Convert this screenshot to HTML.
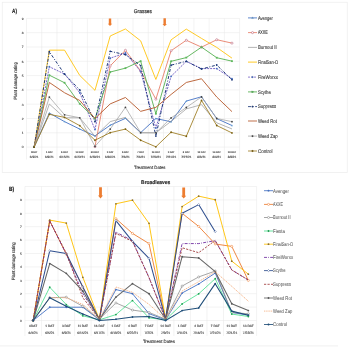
<!DOCTYPE html>
<html><head><meta charset="utf-8"><style>
html,body{margin:0;padding:0;background:#fff;width:350px;height:348px;overflow:hidden}
svg{display:block;will-change:transform}
text{font-family:"Liberation Sans", sans-serif;text-rendering:geometricPrecision}
</style></head><body>
<svg width="350" height="348" viewBox="0 0 350 348">
<rect x="0" y="0" width="350" height="348" fill="#fff"/>
<rect x="2.25" y="2.25" width="345" height="170.2" fill="none" stroke="#eeeeee" stroke-width="0.8"/>
<line x1="0" y1="345.8" x2="338" y2="345.8" stroke="#f3f3f3" stroke-width="1.2"/>
<g stroke="#e6e6e6" stroke-width="0.5">
<line x1="26.5" y1="147.1" x2="239.58" y2="147.1"/>
<line x1="26.5" y1="132.8" x2="239.58" y2="132.8"/>
<line x1="26.5" y1="118.5" x2="239.58" y2="118.5"/>
<line x1="26.5" y1="104.2" x2="239.58" y2="104.2"/>
<line x1="26.5" y1="89.9" x2="239.58" y2="89.9"/>
<line x1="26.5" y1="75.6" x2="239.58" y2="75.6"/>
<line x1="26.5" y1="61.3" x2="239.58" y2="61.3"/>
<line x1="26.5" y1="47" x2="239.58" y2="47"/>
<line x1="26.5" y1="32.7" x2="239.58" y2="32.7"/>
<line x1="26.5" y1="18.4" x2="239.58" y2="18.4"/>
<line x1="26.5" y1="18.4" x2="26.5" y2="159.5"/>
<line x1="41.72" y1="18.4" x2="41.72" y2="159.5"/>
<line x1="56.94" y1="18.4" x2="56.94" y2="159.5"/>
<line x1="72.16" y1="18.4" x2="72.16" y2="159.5"/>
<line x1="87.38" y1="18.4" x2="87.38" y2="159.5"/>
<line x1="102.6" y1="18.4" x2="102.6" y2="159.5"/>
<line x1="117.82" y1="18.4" x2="117.82" y2="159.5"/>
<line x1="133.04" y1="18.4" x2="133.04" y2="159.5"/>
<line x1="148.26" y1="18.4" x2="148.26" y2="159.5"/>
<line x1="163.48" y1="18.4" x2="163.48" y2="159.5"/>
<line x1="178.7" y1="18.4" x2="178.7" y2="159.5"/>
<line x1="193.92" y1="18.4" x2="193.92" y2="159.5"/>
<line x1="209.14" y1="18.4" x2="209.14" y2="159.5"/>
<line x1="224.36" y1="18.4" x2="224.36" y2="159.5"/>
<line x1="239.58" y1="18.4" x2="239.58" y2="159.5"/>
<line x1="24.9" y1="320.5" x2="256.6" y2="320.5"/>
<line x1="24.9" y1="307.1" x2="256.6" y2="307.1"/>
<line x1="24.9" y1="293.7" x2="256.6" y2="293.7"/>
<line x1="24.9" y1="280.3" x2="256.6" y2="280.3"/>
<line x1="24.9" y1="266.9" x2="256.6" y2="266.9"/>
<line x1="24.9" y1="253.5" x2="256.6" y2="253.5"/>
<line x1="24.9" y1="240.1" x2="256.6" y2="240.1"/>
<line x1="24.9" y1="226.7" x2="256.6" y2="226.7"/>
<line x1="24.9" y1="213.3" x2="256.6" y2="213.3"/>
<line x1="24.9" y1="199.9" x2="256.6" y2="199.9"/>
<line x1="24.9" y1="186.5" x2="256.6" y2="186.5"/>
<line x1="24.9" y1="186.5" x2="24.9" y2="336"/>
<line x1="41.45" y1="186.5" x2="41.45" y2="336"/>
<line x1="58" y1="186.5" x2="58" y2="336"/>
<line x1="74.55" y1="186.5" x2="74.55" y2="336"/>
<line x1="91.1" y1="186.5" x2="91.1" y2="336"/>
<line x1="107.65" y1="186.5" x2="107.65" y2="336"/>
<line x1="124.2" y1="186.5" x2="124.2" y2="336"/>
<line x1="140.75" y1="186.5" x2="140.75" y2="336"/>
<line x1="157.3" y1="186.5" x2="157.3" y2="336"/>
<line x1="173.85" y1="186.5" x2="173.85" y2="336"/>
<line x1="190.4" y1="186.5" x2="190.4" y2="336"/>
<line x1="206.95" y1="186.5" x2="206.95" y2="336"/>
<line x1="223.5" y1="186.5" x2="223.5" y2="336"/>
<line x1="240.05" y1="186.5" x2="240.05" y2="336"/>
<line x1="256.6" y1="186.5" x2="256.6" y2="336"/>
</g>
<g font-size="3.2" fill="#595959" stroke="#595959" stroke-width="0.15" text-anchor="middle">
<text x="22.7" y="148.4">0</text>
<text x="22.7" y="134.1">1</text>
<text x="22.7" y="119.8">2</text>
<text x="22.7" y="105.5">3</text>
<text x="22.7" y="91.2">4</text>
<text x="22.7" y="76.9">5</text>
<text x="22.7" y="62.6">6</text>
<text x="22.7" y="48.3">7</text>
<text x="22.7" y="34">8</text>
<text x="22.7" y="19.7">9</text>
<text x="21" y="321.7">0</text>
<text x="21" y="308.3">1</text>
<text x="21" y="294.9">2</text>
<text x="21" y="281.5">3</text>
<text x="21" y="268.1">4</text>
<text x="21" y="254.7">5</text>
<text x="21" y="241.3">6</text>
<text x="21" y="227.9">7</text>
<text x="21" y="214.5">8</text>
<text x="21" y="201.1">9</text>
</g>
<g fill="#595959" stroke="#595959" stroke-width="0.16" text-anchor="middle">
<g font-size="2.5"><text x="34.11" y="152.6">0DAT</text>
<text x="49.33" y="152.6">1 DAT</text>
<text x="64.55" y="152.6">6 DAT</text>
<text x="79.77" y="152.6">13 DAT</text>
<text x="94.99" y="152.6">20 DAT</text>
<text x="110.21" y="152.6">1 DAT</text>
<text x="125.43" y="152.6">6 DAT</text>
<text x="140.65" y="152.6">7 DAT</text>
<text x="155.87" y="152.6">14 DAT</text>
<text x="171.09" y="152.6">1 DAT</text>
<text x="186.31" y="152.6">6 DAT</text>
<text x="201.53" y="152.6">13 DAT</text>
<text x="216.75" y="152.6">14 DAT</text>
<text x="231.97" y="152.6">18 DAT</text></g>
<g font-size="3.1"><text x="34.11" y="157.5">6/9/21</text>
<text x="49.33" y="157.5">6/9/21</text>
<text x="64.55" y="157.5">6/15/21</text>
<text x="79.77" y="157.5">6/22/21</text>
<text x="94.99" y="157.5">6/29/21</text>
<text x="110.21" y="157.5">6/30/21</text>
<text x="125.43" y="157.5">7/6/21</text>
<text x="140.65" y="157.5">7/6/21</text>
<text x="155.87" y="157.5">7/20/21</text>
<text x="171.09" y="157.5">7/21/21</text>
<text x="186.31" y="157.5">7/27/21</text>
<text x="201.53" y="157.5">8/3/21</text>
<text x="216.75" y="157.5">8/4/21</text>
<text x="231.97" y="157.5">8/9/21</text></g>
<g font-size="3.2"><text x="33.17" y="326.5">0DAT</text>
<text x="49.73" y="326.5">1 DAT</text>
<text x="66.28" y="326.5">3 DAT</text>
<text x="82.83" y="326.5">11 DAT</text>
<text x="99.38" y="326.5">16 DAT</text>
<text x="115.93" y="326.5">1 DAT</text>
<text x="132.47" y="326.5">4 DAT</text>
<text x="149.03" y="326.5">7 DAT</text>
<text x="165.58" y="326.5">14 DAT</text>
<text x="182.12" y="326.5">1 DAT</text>
<text x="198.68" y="326.5">4 DAT</text>
<text x="215.23" y="326.5">7 DAT</text>
<text x="231.78" y="326.5">11 DAT</text>
<text x="248.33" y="326.5">13 DAT</text></g>
<g font-size="3.3"><text x="33.17" y="333.8">6/4/21</text>
<text x="49.73" y="333.8">6/5/21</text>
<text x="66.28" y="333.8">6/9/21</text>
<text x="82.83" y="333.8">6/15/21</text>
<text x="99.38" y="333.8">6/17/21</text>
<text x="115.93" y="333.8">6/19/21</text>
<text x="132.47" y="333.8">6/22/21</text>
<text x="149.03" y="333.8">7/2/21</text>
<text x="165.58" y="333.8">7/9/21</text>
<text x="182.12" y="333.8">7/11/21</text>
<text x="198.68" y="333.8">7/16/21</text>
<text x="215.23" y="333.8">7/21/21</text>
<text x="231.78" y="333.8">7/21/21</text>
<text x="248.33" y="333.8">7/23/21</text></g>
</g>
<g font-size="4.6" fill="#404040" stroke="#404040" stroke-width="0.15" text-anchor="middle">
<g transform="translate(15.8 80.9) rotate(-90)"><text x="0" y="1.6" textLength="37.3" lengthAdjust="spacingAndGlyphs">Plant damage rating</text></g>
<g transform="translate(13.5 261.3) rotate(-90)"><text x="0" y="1.6" textLength="38" lengthAdjust="spacingAndGlyphs">Plant damage rating</text></g>
<text x="149.7" y="169.1" textLength="31.5" lengthAdjust="spacingAndGlyphs">Treatment Dates</text>
<text x="158.9" y="342.9" textLength="32" lengthAdjust="spacingAndGlyphs">Treatment Dates</text>
</g>
<g font-size="5.4" fill="#333" stroke="#333" stroke-width="0.2" text-anchor="middle">
<text x="142.9" y="12.9" textLength="18.2" lengthAdjust="spacingAndGlyphs">Grasses</text>
<text x="155.7" y="184" textLength="29.2" lengthAdjust="spacingAndGlyphs" font-weight="bold">Broadleaves</text>
</g>
<g font-size="6" font-weight="bold" fill="#222" stroke="#222" stroke-width="0.2">
<text x="12.1" y="13.4" textLength="4.9" lengthAdjust="spacingAndGlyphs">A)</text>
<text x="9" y="191" textLength="5.2" lengthAdjust="spacingAndGlyphs">B)</text>
</g>
<path d="M108.8 18.4H111.2V23.8H112.2L110 26L107.8 23.8H108.8Z" fill="#ed7d31"/>
<path d="M163.5 18.2H165.9V24H166.9L164.7 26.2L162.5 24H163.5Z" fill="#ed7d31"/>
<path d="M99.1 187.3H101.9V195.6H103L100.5 198.4L98 195.6H99.1Z" fill="#ed7d31"/>
<path d="M182.3 187.6H185.1V195.8H186.2L183.7 198.6L181.2 195.8H182.3Z" fill="#ed7d31"/>
<g>
<polyline points="34.11,147.1 49.33,113.07 64.55,121.65 79.77,129.08 94.99,135.95 110.21,125.22 125.43,118.36 140.65,132.66 155.87,118.5 171.09,121.79 186.31,101.05 201.53,96.76 216.75,118.64 231.97,125.51" fill="none" stroke="#4472c4" stroke-width="0.9" stroke-linejoin="round"/>
<path d="M34.11 146L35.11 147.8L33.11 147.8Z" fill="#5b9bd5"/>
<path d="M49.33 111.97L50.33 113.77L48.33 113.77Z" fill="#5b9bd5"/>
<path d="M64.55 120.55L65.55 122.35L63.55 122.35Z" fill="#5b9bd5"/>
<path d="M79.77 127.98L80.77 129.78L78.77 129.78Z" fill="#5b9bd5"/>
<path d="M94.99 134.85L95.99 136.65L93.99 136.65Z" fill="#5b9bd5"/>
<path d="M110.21 124.12L111.21 125.92L109.21 125.92Z" fill="#5b9bd5"/>
<path d="M125.43 117.26L126.43 119.06L124.43 119.06Z" fill="#5b9bd5"/>
<path d="M140.65 131.56L141.65 133.36L139.65 133.36Z" fill="#5b9bd5"/>
<path d="M155.87 117.4L156.87 119.2L154.87 119.2Z" fill="#5b9bd5"/>
<path d="M171.09 120.69L172.09 122.49L170.09 122.49Z" fill="#5b9bd5"/>
<path d="M186.31 99.95L187.31 101.75L185.31 101.75Z" fill="#5b9bd5"/>
<path d="M201.53 95.66L202.53 97.46L200.53 97.46Z" fill="#5b9bd5"/>
<path d="M216.75 117.54L217.75 119.34L215.75 119.34Z" fill="#5b9bd5"/>
<path d="M231.97 124.41L232.97 126.21L230.97 126.21Z" fill="#5b9bd5"/>
<polyline points="94.99,146.67 110.21,65.88 125.43,50.29 140.65,71.02 155.87,99.19 171.09,50.72 186.31,40.28 201.53,47.14 216.75,39.71 231.97,43.14" fill="none" stroke="#e8806a" stroke-width="0.9" stroke-linejoin="round"/>
<circle cx="94.99" cy="146.67" r="1.05" fill="#fff" stroke="#b0506a" stroke-width="0.5"/>
<circle cx="110.21" cy="65.88" r="1.05" fill="#fff" stroke="#b0506a" stroke-width="0.5"/>
<circle cx="125.43" cy="50.29" r="1.05" fill="#fff" stroke="#b0506a" stroke-width="0.5"/>
<circle cx="140.65" cy="71.02" r="1.05" fill="#fff" stroke="#b0506a" stroke-width="0.5"/>
<circle cx="155.87" cy="99.19" r="1.05" fill="#fff" stroke="#b0506a" stroke-width="0.5"/>
<circle cx="171.09" cy="50.72" r="1.05" fill="#fff" stroke="#b0506a" stroke-width="0.5"/>
<circle cx="186.31" cy="40.28" r="1.05" fill="#fff" stroke="#b0506a" stroke-width="0.5"/>
<circle cx="201.53" cy="47.14" r="1.05" fill="#fff" stroke="#b0506a" stroke-width="0.5"/>
<circle cx="216.75" cy="39.71" r="1.05" fill="#fff" stroke="#b0506a" stroke-width="0.5"/>
<circle cx="231.97" cy="43.14" r="1.05" fill="#fff" stroke="#b0506a" stroke-width="0.5"/>
<polyline points="34.11,147.1 49.33,104.06 64.55,117.78 79.77,117.78 94.99,136.38 110.21,121.65 125.43,117.36 140.65,132.8 155.87,132.8 171.09,121.36 186.31,108.92 201.53,104.63 216.75,122.79 231.97,128.94" fill="none" stroke="#8c8c8c" stroke-width="0.65" stroke-linejoin="round"/>














<polyline points="34.11,147.1 49.33,50.15 64.55,50.15 79.77,75.46 94.99,90.33 110.21,35.99 125.43,28.98 140.65,40.85 155.87,79.46 171.09,39.85 186.31,29.12 201.53,38.42 216.75,47.43 231.97,58.15" fill="none" stroke="#ffc000" stroke-width="0.85" stroke-linejoin="round"/>














<polyline points="34.11,147.1 49.33,66.73 64.55,74.03 79.77,92.76 94.99,129.51 110.21,58.15 125.43,53.01 140.65,71.45 155.87,128.08 171.09,76.31 186.31,61.3 201.53,68.59 216.75,68.59 231.97,78.75" fill="none" stroke="#7b68c8" stroke-width="1.0" stroke-linejoin="round" stroke-dasharray="2,1"/>
<circle cx="34.11" cy="147.1" r="0.9" fill="#4472c4"/>
<circle cx="49.33" cy="66.73" r="0.9" fill="#4472c4"/>
<circle cx="64.55" cy="74.03" r="0.9" fill="#4472c4"/>
<circle cx="79.77" cy="92.76" r="0.9" fill="#4472c4"/>
<circle cx="94.99" cy="129.51" r="0.9" fill="#4472c4"/>
<circle cx="110.21" cy="58.15" r="0.9" fill="#4472c4"/>
<circle cx="125.43" cy="53.01" r="0.9" fill="#4472c4"/>
<circle cx="140.65" cy="71.45" r="0.9" fill="#4472c4"/>
<circle cx="155.87" cy="128.08" r="0.9" fill="#4472c4"/>
<circle cx="171.09" cy="76.31" r="0.9" fill="#4472c4"/>
<circle cx="186.31" cy="61.3" r="0.9" fill="#4472c4"/>
<circle cx="201.53" cy="68.59" r="0.9" fill="#4472c4"/>
<circle cx="216.75" cy="68.59" r="0.9" fill="#4472c4"/>
<circle cx="231.97" cy="78.75" r="0.9" fill="#4472c4"/>
<polyline points="34.11,147.1 49.33,75.17 64.55,82.75 79.77,103.77 94.99,118.64 110.21,72.02 125.43,68.16 140.65,61.16 155.87,113.78 171.09,61.3 186.31,57.58 201.53,47.14 216.75,57.72 231.97,61.16" fill="none" stroke="#55b050" stroke-width="0.9" stroke-linejoin="round"/>
<rect x="33.21" y="146.2" width="1.8" height="1.8" fill="#5cb85c"/>
<rect x="48.43" y="74.27" width="1.8" height="1.8" fill="#5cb85c"/>
<rect x="63.65" y="81.85" width="1.8" height="1.8" fill="#5cb85c"/>
<rect x="78.87" y="102.87" width="1.8" height="1.8" fill="#5cb85c"/>
<rect x="94.09" y="117.74" width="1.8" height="1.8" fill="#5cb85c"/>
<rect x="109.31" y="71.12" width="1.8" height="1.8" fill="#5cb85c"/>
<rect x="124.53" y="67.26" width="1.8" height="1.8" fill="#5cb85c"/>
<rect x="139.75" y="60.26" width="1.8" height="1.8" fill="#5cb85c"/>
<rect x="154.97" y="112.88" width="1.8" height="1.8" fill="#5cb85c"/>
<rect x="170.19" y="60.4" width="1.8" height="1.8" fill="#5cb85c"/>
<rect x="185.41" y="56.68" width="1.8" height="1.8" fill="#5cb85c"/>
<rect x="200.63" y="46.24" width="1.8" height="1.8" fill="#5cb85c"/>
<rect x="215.85" y="56.82" width="1.8" height="1.8" fill="#5cb85c"/>
<rect x="231.07" y="60.26" width="1.8" height="1.8" fill="#5cb85c"/>
<polyline points="34.11,147.1 49.33,51.72 64.55,74.17 79.77,89.9 94.99,121.65 110.21,51.29 125.43,54.72 140.65,65.59 155.87,136.09 171.09,65.16 186.31,61.3 201.53,69.02 216.75,65.02 231.97,79.75" fill="none" stroke="#1f3a7a" stroke-width="1.0" stroke-linejoin="round" stroke-dasharray="3,1.6,1,1.6"/>
<circle cx="34.11" cy="147.1" r="0.9" fill="#1f3a7a"/>
<circle cx="49.33" cy="51.72" r="0.9" fill="#1f3a7a"/>
<circle cx="64.55" cy="74.17" r="0.9" fill="#1f3a7a"/>
<circle cx="79.77" cy="89.9" r="0.9" fill="#1f3a7a"/>
<circle cx="94.99" cy="121.65" r="0.9" fill="#1f3a7a"/>
<circle cx="110.21" cy="51.29" r="0.9" fill="#1f3a7a"/>
<circle cx="125.43" cy="54.72" r="0.9" fill="#1f3a7a"/>
<circle cx="140.65" cy="65.59" r="0.9" fill="#1f3a7a"/>
<circle cx="155.87" cy="136.09" r="0.9" fill="#1f3a7a"/>
<circle cx="171.09" cy="65.16" r="0.9" fill="#1f3a7a"/>
<circle cx="186.31" cy="61.3" r="0.9" fill="#1f3a7a"/>
<circle cx="201.53" cy="69.02" r="0.9" fill="#1f3a7a"/>
<circle cx="216.75" cy="65.02" r="0.9" fill="#1f3a7a"/>
<circle cx="231.97" cy="79.75" r="0.9" fill="#1f3a7a"/>
<polyline points="34.11,147.1 49.33,82.46 64.55,92.76 79.77,100.48 94.99,118.5 110.21,103.91 125.43,97.48 140.65,111.35 155.87,107.35 171.09,94.48 186.31,82.46 201.53,78.75 216.75,97.05 231.97,111.64" fill="none" stroke="#b5582a" stroke-width="0.9" stroke-linejoin="round"/>














<polyline points="34.11,147.1 49.33,97.05 64.55,114.78 79.77,117.78 94.99,146.38 110.21,129.08 125.43,107.35 140.65,132.66 155.87,132.8 171.09,117.93 186.31,107.49 201.53,96.91 216.75,118.5 231.97,121.65" fill="none" stroke="#a6a6a6" stroke-width="0.78" stroke-linejoin="round"/>
<circle cx="34.11" cy="147.1" r="0.9" fill="#404040"/>
<circle cx="49.33" cy="97.05" r="0.9" fill="#404040"/>
<circle cx="64.55" cy="114.78" r="0.9" fill="#404040"/>
<circle cx="79.77" cy="117.78" r="0.9" fill="#404040"/>
<circle cx="94.99" cy="146.38" r="0.9" fill="#404040"/>
<circle cx="110.21" cy="129.08" r="0.9" fill="#404040"/>
<circle cx="125.43" cy="107.35" r="0.9" fill="#404040"/>
<circle cx="140.65" cy="132.66" r="0.9" fill="#404040"/>
<circle cx="155.87" cy="132.8" r="0.9" fill="#404040"/>
<circle cx="171.09" cy="117.93" r="0.9" fill="#404040"/>
<circle cx="186.31" cy="107.49" r="0.9" fill="#404040"/>
<circle cx="201.53" cy="96.91" r="0.9" fill="#404040"/>
<circle cx="216.75" cy="118.5" r="0.9" fill="#404040"/>
<circle cx="231.97" cy="121.65" r="0.9" fill="#404040"/>
<polyline points="34.11,147.1 49.33,114.35 64.55,117.36 79.77,125.65 94.99,140.24 110.21,132.66 125.43,129.08 140.65,140.24 155.87,146.81 171.09,132.23 186.31,136.23 201.53,100.48 216.75,125.51 231.97,132.94" fill="none" stroke="#a08028" stroke-width="0.9" stroke-linejoin="round"/>
<circle cx="34.11" cy="147.1" r="0.9" fill="#7a6010"/>
<circle cx="49.33" cy="114.35" r="0.9" fill="#7a6010"/>
<circle cx="64.55" cy="117.36" r="0.9" fill="#7a6010"/>
<circle cx="79.77" cy="125.65" r="0.9" fill="#7a6010"/>
<circle cx="94.99" cy="140.24" r="0.9" fill="#7a6010"/>
<circle cx="110.21" cy="132.66" r="0.9" fill="#7a6010"/>
<circle cx="125.43" cy="129.08" r="0.9" fill="#7a6010"/>
<circle cx="140.65" cy="140.24" r="0.9" fill="#7a6010"/>
<circle cx="155.87" cy="146.81" r="0.9" fill="#7a6010"/>
<circle cx="171.09" cy="132.23" r="0.9" fill="#7a6010"/>
<circle cx="186.31" cy="136.23" r="0.9" fill="#7a6010"/>
<circle cx="201.53" cy="100.48" r="0.9" fill="#7a6010"/>
<circle cx="216.75" cy="125.51" r="0.9" fill="#7a6010"/>
<circle cx="231.97" cy="132.94" r="0.9" fill="#7a6010"/>
</g>
<g>
<polyline points="33.17,320.5 49.73,307.23 66.28,307.23 82.83,307.23 99.38,319.83 115.93,289.55 132.47,293.7 149.03,313.67 165.58,319.83 182.12,293.03 198.68,284.05 215.23,273.06 231.78,312.46 248.33,315.14" fill="none" stroke="#4472c4" stroke-width="0.91" stroke-linejoin="round"/>
<circle cx="33.17" cy="320.5" r="0.9" fill="#4472c4"/>
<circle cx="49.73" cy="307.23" r="0.9" fill="#4472c4"/>
<circle cx="66.28" cy="307.23" r="0.9" fill="#4472c4"/>
<circle cx="82.83" cy="307.23" r="0.9" fill="#4472c4"/>
<circle cx="99.38" cy="319.83" r="0.9" fill="#4472c4"/>
<circle cx="115.93" cy="289.55" r="0.9" fill="#4472c4"/>
<circle cx="132.47" cy="293.7" r="0.9" fill="#4472c4"/>
<circle cx="149.03" cy="313.67" r="0.9" fill="#4472c4"/>
<circle cx="165.58" cy="319.83" r="0.9" fill="#4472c4"/>
<circle cx="182.12" cy="293.03" r="0.9" fill="#4472c4"/>
<circle cx="198.68" cy="284.05" r="0.9" fill="#4472c4"/>
<circle cx="215.23" cy="273.06" r="0.9" fill="#4472c4"/>
<circle cx="231.78" cy="312.46" r="0.9" fill="#4472c4"/>
<circle cx="248.33" cy="315.14" r="0.9" fill="#4472c4"/>
<polyline points="33.17,320.5 49.73,220.94 66.28,254.17 82.83,287 99.38,319.16 115.93,218.66 132.47,233.4 149.03,243.58 165.58,319.16 182.12,213.3 198.68,226.43 215.23,243.99 231.78,246.4 248.33,280.43" fill="none" stroke="#ed7d31" stroke-width="0.91" stroke-linejoin="round"/>
<circle cx="33.17" cy="320.5" r="1.05" fill="#fff" stroke="#ed7d31" stroke-width="0.5"/>
<circle cx="49.73" cy="220.94" r="1.05" fill="#fff" stroke="#ed7d31" stroke-width="0.5"/>
<circle cx="66.28" cy="254.17" r="1.05" fill="#fff" stroke="#ed7d31" stroke-width="0.5"/>
<circle cx="82.83" cy="287" r="1.05" fill="#fff" stroke="#ed7d31" stroke-width="0.5"/>
<circle cx="99.38" cy="319.16" r="1.05" fill="#fff" stroke="#ed7d31" stroke-width="0.5"/>
<circle cx="115.93" cy="218.66" r="1.05" fill="#fff" stroke="#ed7d31" stroke-width="0.5"/>
<circle cx="132.47" cy="233.4" r="1.05" fill="#fff" stroke="#ed7d31" stroke-width="0.5"/>
<circle cx="149.03" cy="243.58" r="1.05" fill="#fff" stroke="#ed7d31" stroke-width="0.5"/>
<circle cx="165.58" cy="319.16" r="1.05" fill="#fff" stroke="#ed7d31" stroke-width="0.5"/>
<circle cx="182.12" cy="213.3" r="1.05" fill="#fff" stroke="#ed7d31" stroke-width="0.5"/>
<circle cx="198.68" cy="226.43" r="1.05" fill="#fff" stroke="#ed7d31" stroke-width="0.5"/>
<circle cx="215.23" cy="243.99" r="1.05" fill="#fff" stroke="#ed7d31" stroke-width="0.5"/>
<circle cx="231.78" cy="246.4" r="1.05" fill="#fff" stroke="#ed7d31" stroke-width="0.5"/>
<circle cx="248.33" cy="280.43" r="1.05" fill="#fff" stroke="#ed7d31" stroke-width="0.5"/>
<polyline points="33.17,320.5 49.73,297.72 66.28,297.18 82.83,306.3 99.38,319.16 115.93,302.95 132.47,310.05 149.03,312.46 165.58,319.16 182.12,286.06 198.68,276.95 215.23,271.05 231.78,312.46 248.33,313.8" fill="none" stroke="#8c8c8c" stroke-width="0.78" stroke-linejoin="round"/>
<circle cx="33.17" cy="320.5" r="1.05" fill="#fff" stroke="#7f7f7f" stroke-width="0.5"/>
<circle cx="49.73" cy="297.72" r="1.05" fill="#fff" stroke="#7f7f7f" stroke-width="0.5"/>
<circle cx="66.28" cy="297.18" r="1.05" fill="#fff" stroke="#7f7f7f" stroke-width="0.5"/>
<circle cx="82.83" cy="306.3" r="1.05" fill="#fff" stroke="#7f7f7f" stroke-width="0.5"/>
<circle cx="99.38" cy="319.16" r="1.05" fill="#fff" stroke="#7f7f7f" stroke-width="0.5"/>
<circle cx="115.93" cy="302.95" r="1.05" fill="#fff" stroke="#7f7f7f" stroke-width="0.5"/>
<circle cx="132.47" cy="310.05" r="1.05" fill="#fff" stroke="#7f7f7f" stroke-width="0.5"/>
<circle cx="149.03" cy="312.46" r="1.05" fill="#fff" stroke="#7f7f7f" stroke-width="0.5"/>
<circle cx="165.58" cy="319.16" r="1.05" fill="#fff" stroke="#7f7f7f" stroke-width="0.5"/>
<circle cx="182.12" cy="286.06" r="1.05" fill="#fff" stroke="#7f7f7f" stroke-width="0.5"/>
<circle cx="198.68" cy="276.95" r="1.05" fill="#fff" stroke="#7f7f7f" stroke-width="0.5"/>
<circle cx="215.23" cy="271.05" r="1.05" fill="#fff" stroke="#7f7f7f" stroke-width="0.5"/>
<circle cx="231.78" cy="312.46" r="1.05" fill="#fff" stroke="#7f7f7f" stroke-width="0.5"/>
<circle cx="248.33" cy="313.8" r="1.05" fill="#fff" stroke="#7f7f7f" stroke-width="0.5"/>
<polyline points="33.17,320.5 49.73,287.27 66.28,304.55 82.83,315.81 99.38,319.83 115.93,314.6 132.47,300.53 149.03,317.82 165.58,319.83 182.12,303.88 198.68,293.83 215.23,278.69 231.78,314.07 248.33,316.48" fill="none" stroke="#3ddc84" stroke-width="0.78" stroke-linejoin="round"/>
<circle cx="33.17" cy="320.5" r="0.9" fill="#1e9e50"/>
<circle cx="49.73" cy="287.27" r="0.9" fill="#1e9e50"/>
<circle cx="66.28" cy="304.55" r="0.9" fill="#1e9e50"/>
<circle cx="82.83" cy="315.81" r="0.9" fill="#1e9e50"/>
<circle cx="99.38" cy="319.83" r="0.9" fill="#1e9e50"/>
<circle cx="115.93" cy="314.6" r="0.9" fill="#1e9e50"/>
<circle cx="132.47" cy="300.53" r="0.9" fill="#1e9e50"/>
<circle cx="149.03" cy="317.82" r="0.9" fill="#1e9e50"/>
<circle cx="165.58" cy="319.83" r="0.9" fill="#1e9e50"/>
<circle cx="182.12" cy="303.88" r="0.9" fill="#1e9e50"/>
<circle cx="198.68" cy="293.83" r="0.9" fill="#1e9e50"/>
<circle cx="215.23" cy="278.69" r="0.9" fill="#1e9e50"/>
<circle cx="231.78" cy="314.07" r="0.9" fill="#1e9e50"/>
<circle cx="248.33" cy="316.48" r="0.9" fill="#1e9e50"/>
<polyline points="33.17,320.5 49.73,220.13 66.28,223.08 82.83,277.35 99.38,319.43 115.93,203.79 132.47,200.17 149.03,223.35 165.58,318.76 182.12,206.6 198.68,196.15 215.23,199.77 231.78,261.14 248.33,274.14" fill="none" stroke="#ffc000" stroke-width="0.91" stroke-linejoin="round"/>
<circle cx="33.17" cy="320.5" r="0.9" fill="#8a7030"/>
<circle cx="49.73" cy="220.13" r="0.9" fill="#8a7030"/>
<circle cx="66.28" cy="223.08" r="0.9" fill="#8a7030"/>
<circle cx="82.83" cy="277.35" r="0.9" fill="#8a7030"/>
<circle cx="99.38" cy="319.43" r="0.9" fill="#8a7030"/>
<circle cx="115.93" cy="203.79" r="0.9" fill="#8a7030"/>
<circle cx="132.47" cy="200.17" r="0.9" fill="#8a7030"/>
<circle cx="149.03" cy="223.35" r="0.9" fill="#8a7030"/>
<circle cx="165.58" cy="318.76" r="0.9" fill="#8a7030"/>
<circle cx="182.12" cy="206.6" r="0.9" fill="#8a7030"/>
<circle cx="198.68" cy="196.15" r="0.9" fill="#8a7030"/>
<circle cx="215.23" cy="199.77" r="0.9" fill="#8a7030"/>
<circle cx="231.78" cy="261.14" r="0.9" fill="#8a7030"/>
<circle cx="248.33" cy="274.14" r="0.9" fill="#8a7030"/>
<polyline points="33.17,320.5 49.73,220.94 66.28,254.17 82.83,293.7 99.38,319.16 115.93,232.06 132.47,240.77 149.03,277.62 165.58,319.16 182.12,243.58 198.68,243.58 215.23,240.64 231.78,269.98 248.33,280.03" fill="none" stroke="#7030a0" stroke-width="0.9" stroke-linejoin="round" stroke-dasharray="3,1.2,0.8,1.2"/>














<polyline points="33.17,320.5 49.73,250.82 66.28,253.5 82.83,287 99.38,319.83 115.93,220.67 132.47,241.44 149.03,258.46 165.58,319.16 182.12,213.3 198.68,204.59 215.23,231.66" fill="none" stroke="#2f4f8f" stroke-width="1.04" stroke-linejoin="round"/>
<path d="M33.17 319.4L34.27 320.5L33.17 321.6L32.07 320.5Z" fill="#fff" stroke="#2f4f8f" stroke-width="0.45"/>
<path d="M49.73 249.72L50.83 250.82L49.73 251.92L48.62 250.82Z" fill="#fff" stroke="#2f4f8f" stroke-width="0.45"/>
<path d="M66.28 252.4L67.38 253.5L66.28 254.6L65.18 253.5Z" fill="#fff" stroke="#2f4f8f" stroke-width="0.45"/>
<path d="M82.83 285.9L83.92 287L82.83 288.1L81.73 287Z" fill="#fff" stroke="#2f4f8f" stroke-width="0.45"/>
<path d="M99.38 318.73L100.47 319.83L99.38 320.93L98.28 319.83Z" fill="#fff" stroke="#2f4f8f" stroke-width="0.45"/>
<path d="M115.93 219.57L117.03 220.67L115.93 221.77L114.83 220.67Z" fill="#fff" stroke="#2f4f8f" stroke-width="0.45"/>
<path d="M132.47 240.34L133.57 241.44L132.47 242.54L131.38 241.44Z" fill="#fff" stroke="#2f4f8f" stroke-width="0.45"/>
<path d="M149.03 257.36L150.12 258.46L149.03 259.56L147.93 258.46Z" fill="#fff" stroke="#2f4f8f" stroke-width="0.45"/>
<path d="M165.58 318.06L166.68 319.16L165.58 320.26L164.48 319.16Z" fill="#fff" stroke="#2f4f8f" stroke-width="0.45"/>
<path d="M182.12 212.2L183.22 213.3L182.12 214.4L181.03 213.3Z" fill="#fff" stroke="#2f4f8f" stroke-width="0.45"/>
<path d="M198.68 203.49L199.78 204.59L198.68 205.69L197.58 204.59Z" fill="#fff" stroke="#2f4f8f" stroke-width="0.45"/>
<path d="M215.23 230.56L216.33 231.66L215.23 232.76L214.13 231.66Z" fill="#fff" stroke="#2f4f8f" stroke-width="0.45"/>
<polyline points="33.17,320.5 49.73,220.94 66.28,253.1 82.83,297.72 99.38,319.16 115.93,233.4 132.47,241.44 149.03,277.62 165.58,319.16 182.12,247.74 198.68,252.7 215.23,240.5 231.78,269.98 248.33,280.03" fill="none" stroke="#9e3a3a" stroke-width="0.9" stroke-linejoin="round" stroke-dasharray="2.2,1.3"/>














<polyline points="33.17,320.5 49.73,263.55 66.28,273.33 82.83,291.02 99.38,319.16 115.93,297.05 132.47,283.65 149.03,293.7 165.58,319.16 182.12,256.72 198.68,257.92 215.23,271.72 231.78,303.75 248.33,310.58" fill="none" stroke="#666666" stroke-width="1.04" stroke-linejoin="round"/>
<circle cx="33.17" cy="320.5" r="0.9" fill="#555555"/>
<circle cx="49.73" cy="263.55" r="0.9" fill="#555555"/>
<circle cx="66.28" cy="273.33" r="0.9" fill="#555555"/>
<circle cx="82.83" cy="291.02" r="0.9" fill="#555555"/>
<circle cx="99.38" cy="319.16" r="0.9" fill="#555555"/>
<circle cx="115.93" cy="297.05" r="0.9" fill="#555555"/>
<circle cx="132.47" cy="283.65" r="0.9" fill="#555555"/>
<circle cx="149.03" cy="293.7" r="0.9" fill="#555555"/>
<circle cx="165.58" cy="319.16" r="0.9" fill="#555555"/>
<circle cx="182.12" cy="256.72" r="0.9" fill="#555555"/>
<circle cx="198.68" cy="257.92" r="0.9" fill="#555555"/>
<circle cx="215.23" cy="271.72" r="0.9" fill="#555555"/>
<circle cx="231.78" cy="303.75" r="0.9" fill="#555555"/>
<circle cx="248.33" cy="310.58" r="0.9" fill="#555555"/>
<polyline points="33.17,320.5 49.73,297.72 66.28,297.72 82.83,304.42 99.38,319.16 115.93,287 132.47,292.36 149.03,304.42 165.58,319.16 182.12,291.02 198.68,281.64 215.23,271.72 231.78,286.33 248.33,301.2" fill="none" stroke="#f4b183" stroke-width="0.91" stroke-linejoin="round" stroke-dasharray="1.4,0.8"/>














<polyline points="33.17,320.5 49.73,297.72 66.28,306.3 82.83,314.07 99.38,320.5 115.93,319.16 132.47,317.02 149.03,316.48 165.58,320.5 182.12,310.58 198.68,307.9 215.23,283.65 231.78,311.12 248.33,315.14" fill="none" stroke="#1f4e79" stroke-width="1.04" stroke-linejoin="round"/>
<circle cx="33.17" cy="320.5" r="0.9" fill="#1f4e79"/>
<circle cx="49.73" cy="297.72" r="0.9" fill="#1f4e79"/>
<circle cx="66.28" cy="306.3" r="0.9" fill="#1f4e79"/>
<circle cx="82.83" cy="314.07" r="0.9" fill="#1f4e79"/>
<circle cx="99.38" cy="320.5" r="0.9" fill="#1f4e79"/>
<circle cx="115.93" cy="319.16" r="0.9" fill="#1f4e79"/>
<circle cx="132.47" cy="317.02" r="0.9" fill="#1f4e79"/>
<circle cx="149.03" cy="316.48" r="0.9" fill="#1f4e79"/>
<circle cx="165.58" cy="320.5" r="0.9" fill="#1f4e79"/>
<circle cx="182.12" cy="310.58" r="0.9" fill="#1f4e79"/>
<circle cx="198.68" cy="307.9" r="0.9" fill="#1f4e79"/>
<circle cx="215.23" cy="283.65" r="0.9" fill="#1f4e79"/>
<circle cx="231.78" cy="311.12" r="0.9" fill="#1f4e79"/>
<circle cx="248.33" cy="315.14" r="0.9" fill="#1f4e79"/>
</g>
<g font-size="5.3" fill="#404040" stroke="#404040" stroke-width="0.12">
<line x1="248" y1="17.9" x2="257" y2="17.9" stroke="#4472c4" stroke-width="0.85"/>
<path d="M252.5 16.8L253.5 18.6L251.5 18.6Z" fill="#5b9bd5"/>
<text x="257.9" y="19.7" textLength="15" lengthAdjust="spacingAndGlyphs">Avenger</text>
<line x1="248" y1="32.6" x2="257" y2="32.6" stroke="#e8806a" stroke-width="0.85"/>
<circle cx="252.5" cy="32.6" r="1.05" fill="#fff" stroke="#b0506a" stroke-width="0.5"/>
<text x="257.9" y="34.4" textLength="9.7" lengthAdjust="spacingAndGlyphs">AXXE</text>
<line x1="248" y1="47.4" x2="257" y2="47.4" stroke="#8c8c8c" stroke-width="0.65"/>

<text x="257.9" y="49.2" textLength="18.8" lengthAdjust="spacingAndGlyphs">Burnout II</text>
<line x1="248" y1="62.1" x2="257" y2="62.1" stroke="#ffc000" stroke-width="0.85"/>

<text x="257.9" y="63.9" textLength="20.3" lengthAdjust="spacingAndGlyphs">FinalSan-O</text>
<line x1="248" y1="77.1" x2="257" y2="77.1" stroke="#7b68c8" stroke-width="0.85" stroke-dasharray="2,1"/>
<circle cx="252.5" cy="77.1" r="0.9" fill="#4472c4"/>
<text x="257.9" y="78.9" textLength="20" lengthAdjust="spacingAndGlyphs">FireWorxx</text>
<line x1="248" y1="91.9" x2="257" y2="91.9" stroke="#55b050" stroke-width="0.85"/>
<rect x="251.6" y="91" width="1.8" height="1.8" fill="#5cb85c"/>
<text x="257.9" y="93.7" textLength="12.9" lengthAdjust="spacingAndGlyphs">Scythe</text>
<line x1="248" y1="106.6" x2="257" y2="106.6" stroke="#1f3a7a" stroke-width="0.85" stroke-dasharray="3,1.6,1,1.6"/>
<circle cx="252.5" cy="106.6" r="0.9" fill="#1f3a7a"/>
<text x="257.9" y="108.4" textLength="18.2" lengthAdjust="spacingAndGlyphs">Suppress</text>
<line x1="248" y1="121" x2="257" y2="121" stroke="#b5582a" stroke-width="0.85"/>

<text x="257.9" y="122.8" textLength="19" lengthAdjust="spacingAndGlyphs">Weed Rot</text>
<line x1="248" y1="136.1" x2="257" y2="136.1" stroke="#a6a6a6" stroke-width="0.78"/>
<circle cx="252.5" cy="136.1" r="0.9" fill="#404040"/>
<text x="257.9" y="137.9" textLength="19.8" lengthAdjust="spacingAndGlyphs">Weed Zap</text>
<line x1="248" y1="151" x2="257" y2="151" stroke="#a08028" stroke-width="0.85"/>
<circle cx="252.5" cy="151" r="0.9" fill="#7a6010"/>
<text x="257.9" y="152.8" textLength="14.6" lengthAdjust="spacingAndGlyphs">Control</text>
</g>
<g font-size="5.3" fill="#595959" stroke="#595959" stroke-width="0.05">
<line x1="264" y1="190.7" x2="273" y2="190.7" stroke="#4472c4" stroke-width="0.85"/>
<circle cx="268.5" cy="190.7" r="0.9" fill="#4472c4"/>
<text x="273.1" y="192.5" textLength="15.8" lengthAdjust="spacingAndGlyphs">Avenger</text>
<line x1="264" y1="204.4" x2="273" y2="204.4" stroke="#ed7d31" stroke-width="0.85"/>
<circle cx="268.5" cy="204.4" r="1.05" fill="#fff" stroke="#ed7d31" stroke-width="0.5"/>
<text x="273.1" y="206.2" textLength="9.8" lengthAdjust="spacingAndGlyphs">AXXE</text>
<line x1="264" y1="217.5" x2="273" y2="217.5" stroke="#8c8c8c" stroke-width="0.78"/>
<circle cx="268.5" cy="217.5" r="1.05" fill="#fff" stroke="#7f7f7f" stroke-width="0.5"/>
<text x="273.1" y="219.3" textLength="17.5" lengthAdjust="spacingAndGlyphs">Burnout II</text>
<line x1="264" y1="231" x2="273" y2="231" stroke="#3ddc84" stroke-width="0.78"/>
<circle cx="268.5" cy="231" r="0.9" fill="#1e9e50"/>
<text x="273.1" y="232.8" textLength="11.8" lengthAdjust="spacingAndGlyphs">Fiesta</text>
<line x1="264" y1="244.2" x2="273" y2="244.2" stroke="#ffc000" stroke-width="0.85"/>
<circle cx="268.5" cy="244.2" r="0.9" fill="#8a7030"/>
<text x="273.1" y="246" textLength="20.1" lengthAdjust="spacingAndGlyphs">FinalSan-O</text>
<line x1="264" y1="257.4" x2="273" y2="257.4" stroke="#7030a0" stroke-width="0.85" stroke-dasharray="3,1.2,0.8,1.2"/>

<text x="273.1" y="259.2" textLength="20" lengthAdjust="spacingAndGlyphs">FireWorxx</text>
<line x1="264" y1="270.6" x2="273" y2="270.6" stroke="#2f4f8f" stroke-width="0.85"/>
<path d="M268.5 269.5L269.6 270.6L268.5 271.7L267.4 270.6Z" fill="#fff" stroke="#2f4f8f" stroke-width="0.45"/>
<text x="273.1" y="272.4" textLength="12.3" lengthAdjust="spacingAndGlyphs">Scythe</text>
<line x1="264" y1="284.3" x2="273" y2="284.3" stroke="#9e3a3a" stroke-width="0.85" stroke-dasharray="2.2,1.3"/>

<text x="273.1" y="286.1" textLength="18" lengthAdjust="spacingAndGlyphs">Suppress</text>
<line x1="264" y1="298" x2="273" y2="298" stroke="#666666" stroke-width="0.85"/>
<circle cx="268.5" cy="298" r="0.9" fill="#555555"/>
<text x="273.1" y="299.8" textLength="18.9" lengthAdjust="spacingAndGlyphs">Weed Rot</text>
<line x1="264" y1="311.1" x2="273" y2="311.1" stroke="#f4b183" stroke-width="0.85" stroke-dasharray="1.4,0.8"/>

<text x="273.1" y="312.9" textLength="19.2" lengthAdjust="spacingAndGlyphs">Weed Zap</text>
<line x1="264" y1="324.5" x2="273" y2="324.5" stroke="#1f4e79" stroke-width="0.85"/>
<circle cx="268.5" cy="324.5" r="0.9" fill="#1f4e79"/>
<text x="273.1" y="326.3" textLength="14.1" lengthAdjust="spacingAndGlyphs">Control</text>
</g>
</svg>
</body></html>
